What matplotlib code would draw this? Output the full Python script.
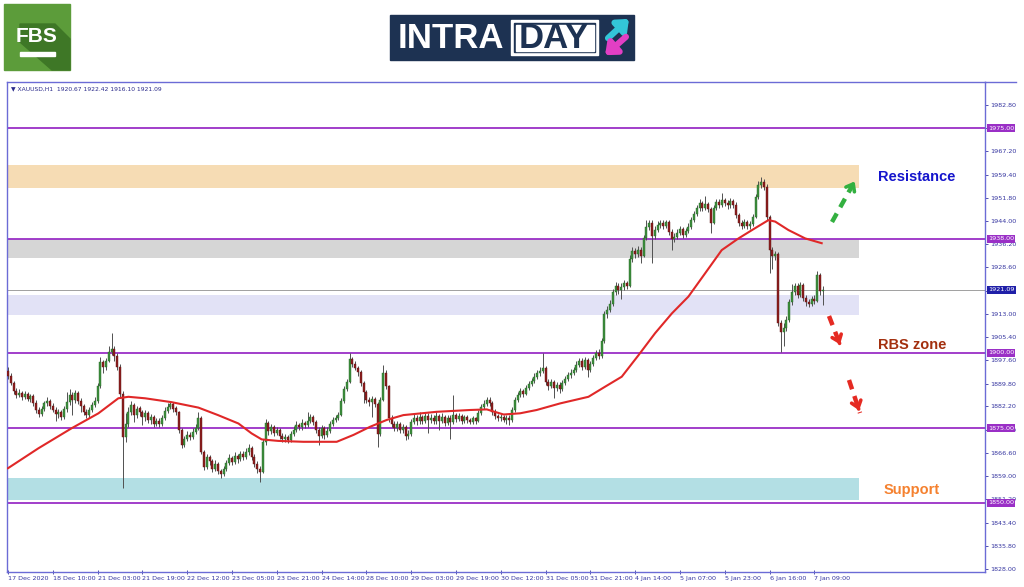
import numpy as np
import matplotlib
matplotlib.use("Agg")
import matplotlib.pyplot as plt
from matplotlib.patches import Rectangle, Polygon

# XAUUSD H1 candles (open = previous close)
first_open = 1894.0
closes = [
    1892.5, 1890.0, 1887.5, 1886.0, 1886.8, 1885.5, 1886.2, 1884.8, 1885.6, 1883.5,
    1881.0, 1879.8, 1881.5, 1883.2, 1884.0, 1882.5, 1881.0, 1879.6, 1880.2, 1878.8,
    1881.5, 1883.8, 1886.0, 1884.5, 1886.8, 1884.0, 1882.2, 1880.5, 1879.4, 1881.0,
    1882.8, 1884.0, 1889.0, 1897.0, 1895.5, 1897.5, 1900.5, 1901.5, 1899.0, 1895.5,
    1886.5, 1872.0, 1876.5, 1880.5, 1882.8, 1879.5, 1881.5, 1880.2, 1878.6, 1880.0,
    1877.8, 1878.8, 1876.5, 1877.5, 1876.2, 1878.5, 1880.8, 1882.0, 1883.0, 1881.5,
    1880.2, 1874.5, 1869.5, 1871.5, 1872.8, 1872.0, 1873.8, 1875.0, 1878.2, 1867.0,
    1862.0, 1865.2, 1864.0, 1861.5, 1863.0, 1860.8, 1859.8, 1861.5, 1863.5, 1865.0,
    1863.8, 1865.8, 1864.8, 1866.5, 1865.5, 1867.0, 1868.5, 1865.5, 1863.0, 1861.5,
    1860.5, 1870.5, 1876.8, 1874.0, 1875.2, 1873.5, 1874.4, 1872.5, 1871.2, 1872.0,
    1871.0, 1873.0, 1874.5, 1876.0, 1875.2, 1876.8, 1876.0, 1877.5, 1878.8, 1877.0,
    1874.5, 1872.5, 1875.0, 1872.8, 1874.0, 1876.5, 1877.8, 1878.5, 1879.5, 1884.0,
    1888.0, 1890.5, 1898.0, 1896.5, 1895.0, 1893.8, 1890.0, 1887.0, 1884.5, 1883.8,
    1884.8, 1883.0, 1873.0, 1884.5, 1893.5, 1889.0, 1878.5, 1876.5, 1875.0, 1876.2,
    1874.5, 1875.2, 1872.5, 1873.0, 1877.0, 1878.5, 1877.2, 1878.8, 1877.5, 1879.0,
    1877.8, 1878.5, 1877.2, 1879.0, 1877.5, 1878.8, 1876.8, 1878.5, 1877.0, 1879.2,
    1878.0, 1879.0, 1877.5, 1878.6, 1877.8, 1877.0, 1878.2, 1877.5, 1880.0, 1882.0,
    1883.0, 1884.5, 1883.5, 1880.5, 1879.0, 1878.2, 1878.8, 1877.8, 1878.5, 1877.6,
    1881.0, 1884.5, 1886.0, 1887.2, 1886.5, 1888.5, 1889.8, 1890.8, 1892.0, 1893.2,
    1894.0, 1895.0, 1890.5, 1889.0, 1890.2, 1888.5, 1889.5, 1888.0, 1890.0, 1891.5,
    1892.8, 1893.5, 1894.5, 1896.0, 1897.5, 1895.5, 1897.8, 1894.5, 1896.5, 1898.5,
    1900.0, 1899.0, 1904.0, 1913.0, 1914.5, 1916.5, 1920.5, 1922.5, 1921.0, 1922.0,
    1923.2, 1922.5, 1931.5, 1934.0, 1933.0, 1934.5, 1932.5, 1938.5, 1942.0, 1943.5,
    1939.0, 1941.0, 1942.8, 1943.5, 1942.5, 1943.8, 1940.5, 1938.0, 1938.8, 1940.0,
    1941.2, 1939.5, 1940.8, 1942.0, 1944.5, 1946.5, 1948.5, 1950.0, 1948.5, 1949.8,
    1948.0, 1943.5, 1948.5, 1950.5, 1949.5, 1951.0, 1950.0, 1949.2, 1950.8, 1949.5,
    1946.0, 1943.5, 1942.5, 1943.8, 1942.2, 1943.0, 1945.5, 1952.0, 1956.0, 1957.0,
    1955.5, 1945.5, 1934.5, 1932.5, 1933.0, 1910.0, 1907.0, 1908.5, 1911.0, 1917.0,
    1920.5, 1922.5, 1919.5, 1922.8, 1918.5, 1917.0, 1916.5, 1918.0, 1917.5, 1926.0,
    1920.67, 1921.09,
]
highs = [
    1895.5, 1893.2, 1890.8, 1888.5, 1888.0, 1887.5, 1887.2, 1887.0, 1886.5, 1886.2,
    1884.2, 1882.0, 1882.5, 1884.0, 1885.5, 1884.8, 1883.5, 1882.0, 1881.5, 1881.0,
    1882.5, 1887.0, 1888.0, 1887.0, 1887.8, 1887.5, 1885.0, 1883.0, 1881.5, 1882.0,
    1883.8, 1885.2, 1890.0, 1898.8, 1897.8, 1898.5, 1902.5, 1906.6, 1902.5, 1900.0,
    1896.5, 1887.5, 1880.0, 1882.0, 1884.0, 1883.5, 1882.5, 1882.5, 1881.0, 1881.0,
    1880.8, 1879.8, 1879.5, 1878.5, 1878.2, 1879.5, 1882.0, 1883.5, 1884.0, 1883.8,
    1882.2, 1880.8, 1875.0, 1872.5, 1874.0, 1873.8, 1875.0, 1876.5, 1880.5, 1879.0,
    1867.8, 1866.5, 1866.0, 1864.8, 1864.5, 1863.8, 1861.5, 1862.5, 1864.5, 1866.2,
    1865.8, 1867.0, 1866.5, 1867.5, 1867.2, 1868.5, 1869.8, 1869.0, 1866.2, 1864.0,
    1862.5, 1871.5, 1878.0, 1877.5, 1876.5, 1876.0, 1875.5, 1875.0, 1873.5, 1873.0,
    1872.8, 1874.0, 1875.8, 1877.5, 1876.8, 1878.0, 1877.5, 1880.4, 1879.8, 1879.5,
    1877.8, 1875.2, 1876.0, 1875.8, 1875.2, 1877.5, 1878.8, 1879.5, 1880.5, 1885.0,
    1889.0, 1891.5, 1899.9, 1898.8, 1897.2, 1895.8, 1894.5, 1890.8, 1887.8, 1885.5,
    1885.8, 1885.5, 1883.8, 1885.5, 1896.0, 1894.2, 1889.5, 1879.5, 1877.5, 1877.5,
    1877.0, 1876.2, 1876.0, 1874.2, 1878.0, 1880.0, 1879.5, 1880.2, 1879.5, 1880.0,
    1880.0, 1879.8, 1879.2, 1880.2, 1879.8, 1880.0, 1879.5, 1879.5, 1879.2, 1886.0,
    1880.0, 1880.0, 1879.8, 1879.5, 1879.2, 1878.5, 1879.0, 1878.8, 1881.0, 1883.0,
    1884.2, 1885.5, 1885.2, 1884.0, 1881.2, 1879.8, 1879.8, 1879.5, 1879.5, 1879.2,
    1882.0, 1885.5, 1887.0, 1888.2, 1888.0, 1889.5, 1890.8, 1891.8, 1893.2, 1894.2,
    1895.2, 1900.0, 1895.8, 1891.2, 1891.2, 1891.0, 1890.5, 1890.2, 1891.0, 1892.5,
    1893.8, 1894.8, 1895.5, 1897.2, 1898.5, 1898.2, 1898.8, 1898.5, 1897.5, 1899.5,
    1901.0, 1901.2, 1905.0, 1914.0, 1915.8, 1917.8, 1921.5, 1923.8, 1923.2, 1923.2,
    1924.2, 1924.0, 1932.8, 1935.5, 1935.0, 1935.8, 1935.2, 1939.5, 1944.5, 1944.5,
    1944.2, 1942.5, 1944.0, 1944.5, 1944.2, 1944.5, 1944.2, 1941.2, 1940.0, 1941.2,
    1942.2, 1942.0, 1941.8, 1943.2, 1945.5, 1947.5, 1949.5, 1951.2, 1950.8, 1952.2,
    1950.5, 1948.8, 1949.5, 1951.5, 1951.2, 1953.2, 1951.8, 1951.0, 1951.8, 1951.5,
    1950.2, 1946.8, 1944.5, 1944.8, 1944.5, 1944.0, 1946.5, 1953.0, 1957.2, 1958.8,
    1958.0, 1956.2, 1946.0, 1935.5, 1934.0, 1933.8, 1911.0, 1910.0, 1912.2, 1918.0,
    1923.0, 1923.5, 1923.2, 1923.8, 1923.2, 1919.5, 1918.0, 1919.0, 1919.2, 1927.5,
    1926.8, 1922.42,
]
lows = [
    1891.5, 1889.2, 1886.5, 1885.0, 1885.2, 1884.5, 1884.8, 1884.0, 1883.8, 1882.5,
    1880.0, 1878.8, 1879.0, 1880.8, 1882.5, 1881.5, 1880.2, 1877.5, 1878.5, 1877.8,
    1878.0, 1880.5, 1882.8, 1879.5, 1883.5, 1883.0, 1880.5, 1879.5, 1878.2, 1878.5,
    1880.2, 1882.0, 1883.5, 1888.5, 1893.5, 1894.5, 1897.0, 1899.5, 1897.5, 1894.5,
    1885.5, 1855.0, 1870.5, 1875.5, 1879.5, 1877.0, 1878.5, 1879.0, 1876.0, 1877.5,
    1876.8, 1876.5, 1875.5, 1875.8, 1875.5, 1875.8, 1877.8, 1880.0, 1881.2, 1880.5,
    1879.5, 1873.5, 1868.5, 1868.8, 1870.8, 1871.0, 1871.5, 1873.0, 1874.5, 1866.5,
    1861.0, 1861.5, 1862.8, 1860.5, 1860.8, 1859.8, 1858.5, 1859.0, 1860.8, 1862.8,
    1862.8, 1863.0, 1863.5, 1864.0, 1864.5, 1864.8, 1866.0, 1864.5, 1862.0, 1860.0,
    1857.0, 1860.0, 1869.5, 1872.8, 1873.0, 1872.5, 1872.8, 1871.5, 1870.2, 1870.5,
    1870.0, 1870.5, 1872.2, 1873.8, 1874.2, 1874.5, 1875.0, 1875.5, 1876.8, 1876.0,
    1873.5, 1869.3, 1871.8, 1871.5, 1872.0, 1873.5, 1875.8, 1877.0, 1877.8, 1879.0,
    1883.5, 1887.2, 1890.0, 1895.5, 1894.2, 1892.5, 1889.0, 1883.5, 1883.5, 1882.5,
    1878.8, 1882.0, 1868.8, 1872.5, 1884.0, 1888.0, 1877.0, 1875.2, 1874.0, 1874.0,
    1873.5, 1873.2, 1871.0, 1871.5, 1872.5, 1876.2, 1876.0, 1876.5, 1876.5, 1876.8,
    1873.5, 1876.8, 1876.2, 1876.5, 1874.5, 1876.8, 1875.8, 1876.0, 1871.5, 1876.5,
    1877.0, 1877.2, 1876.5, 1876.8, 1876.8, 1876.2, 1876.5, 1876.5, 1877.0, 1879.5,
    1881.2, 1882.5, 1882.5, 1879.5, 1878.0, 1877.2, 1877.5, 1877.0, 1876.5, 1876.0,
    1877.0, 1880.5, 1883.8, 1885.2, 1885.5, 1886.0, 1887.8, 1889.0, 1890.0, 1891.2,
    1892.5, 1893.5, 1889.5, 1887.8, 1888.2, 1885.0, 1887.5, 1886.8, 1887.2, 1889.2,
    1890.8, 1891.8, 1892.8, 1893.8, 1895.2, 1894.5, 1894.8, 1892.0, 1893.8, 1895.8,
    1897.8, 1898.0, 1898.5, 1903.5, 1911.8, 1913.8, 1915.8, 1919.5, 1919.8, 1918.0,
    1921.0, 1921.5, 1922.0, 1930.5, 1931.8, 1932.0, 1930.0, 1932.0, 1937.8, 1941.0,
    1930.0, 1938.0, 1940.2, 1941.8, 1941.5, 1941.8, 1939.5, 1934.3, 1937.0, 1938.0,
    1939.2, 1938.5, 1938.8, 1940.0, 1941.5, 1943.8, 1945.8, 1947.5, 1947.5, 1947.8,
    1947.0, 1940.0, 1943.0, 1947.8, 1948.5, 1948.8, 1949.0, 1948.0, 1948.5, 1948.5,
    1945.0, 1942.5, 1941.5, 1941.8, 1941.2, 1941.5, 1942.5, 1945.0, 1951.2, 1955.0,
    1954.5, 1944.5, 1926.6, 1928.0, 1931.0, 1909.0, 1900.4, 1902.5, 1907.5, 1910.5,
    1916.0, 1919.5, 1918.5, 1918.8, 1917.2, 1915.8, 1915.2, 1915.8, 1916.5, 1917.0,
    1919.5, 1916.10,
]

# red moving average (bar index, price)
ma_bar = [0, 10.8, 22.7, 32.3, 39.4, 43, 49, 58.5, 68, 75, 82.3, 87, 90.6, 96.5,
          105.5, 117.4, 123.4, 129.3, 135.3, 141.2, 153.1, 165, 171, 177, 182.9,
          188.8, 197.2, 207.3, 213.3, 219.2, 225.2, 231.1, 237.1, 243, 249, 254.9,
          260.9, 266.8, 271.6, 274, 278.7, 284.7, 290.6]
ma_val = [1861.6, 1868.2, 1874.9, 1879.9, 1884.9, 1885.4, 1884.9, 1883.6, 1881.8,
          1879.3, 1876.5, 1873.2, 1871.2, 1870.7, 1870.4, 1870.4, 1872.7, 1875.4,
          1877.7, 1879.3, 1880.4, 1881.0, 1881.2, 1879.5, 1879.9, 1881.0, 1883.2,
          1885.4, 1888.8, 1892.1, 1899.3, 1906.6, 1913.2, 1918.8, 1926.6, 1934.3,
          1938.2, 1941.6, 1944.3, 1943.8, 1941.0, 1938.2, 1936.6]

levels = [1975.0, 1938.0, 1900.0, 1875.0, 1850.0]
last_price = 1921.09
zones = [(1955.0, 1962.7, "#f6dcb4"), (1931.7, 1938.0, "#d6d6d6"),
         (1912.7, 1919.3, "#e2e2f6"), (1851.0, 1858.3, "#b3dfe4")]

ytick_vals = [1982.80, 1975.00, 1967.20, 1959.40, 1951.80, 1944.00, 1936.20,
              1928.60, 1920.80, 1913.00, 1905.40, 1897.60, 1889.80, 1882.20,
              1874.40, 1866.60, 1859.00, 1851.20, 1843.40, 1835.80, 1828.00]
# labels that sit fully under a price tag in the reference
hidden_ticks = [1975.00, 1920.80]
xtick_labels = ["17 Dec 2020", "18 Dec 10:00", "21 Dec 03:00", "21 Dec 19:00",
                "22 Dec 12:00", "23 Dec 05:00", "23 Dec 21:00", "24 Dec 14:00",
                "28 Dec 10:00", "29 Dec 03:00", "29 Dec 19:00", "30 Dec 12:00",
                "31 Dec 05:00", "31 Dec 21:00", "4 Jan 14:00", "5 Jan 07:00",
                "5 Jan 23:00", "6 Jan 16:00", "7 Jan 09:00"]

W, H = 1024, 587
fig = plt.figure(figsize=(W / 100, H / 100), dpi=100)
fig.patch.set_facecolor("white")

# chart area in pixels: x 7..985, y 82..572
L, R, T, B = 7, 985, 82, 572
ax = fig.add_axes([L / W, (H - B) / H, (R - L) / W, (B - T) / H])
px_per_bar = 2.8
ax.set_xlim((L - 8) / px_per_bar, (R - 8) / px_per_bar)
ax.set_ylim(1900 - (B - 353) / 3, 1900 + (353 - T) / 3)

frame = "#6b6bd6"
for s in ax.spines.values():
    s.set_color(frame)
    s.set_linewidth(1.0)

opens = [first_open] + closes[:-1]
idx = np.arange(len(closes))

for (lo, hi, col) in zones:
    ax.fill_between([-1, 304], lo, hi, color=col, lw=0, zorder=1)

for lv in levels:
    ax.axhline(lv, color="#9a2fc6", lw=1.3, zorder=2)
ax.axhline(last_price, color="#a0a0a0", lw=0.7, zorder=2)

ax.vlines(idx, lows, highs, color="#505050", lw=0.7, zorder=3)
o = np.array(opens)
c = np.array(closes)
up = c >= o
body = np.maximum(np.abs(c - o), 0.2)
ax.bar(idx[up], body[up], bottom=np.minimum(o, c)[up], width=0.7,
       color="#3f8f3f", edgecolor="#226622", lw=0.3, zorder=4)
ax.bar(idx[~up], body[~up], bottom=np.minimum(o, c)[~up], width=0.7,
       color="#8e1f1f", edgecolor="#5a1010", lw=0.3, zorder=4)

ax.plot(ma_bar, ma_val, color="#e02828", lw=1.5, zorder=5)

# axes ticks
ax.yaxis.tick_right()
ax.set_yticks(ytick_vals)
ax.set_yticklabels(["" if v in hidden_ticks else "%.2f" % v for v in ytick_vals])
ax.tick_params(axis="y", labelsize=4.6, colors="#3535a0", length=2, width=0.6, pad=2)
ax.set_xticks(range(0, 16 * len(xtick_labels), 16))
ax.set_xticklabels(xtick_labels, ha="left")
ax.tick_params(axis="x", labelsize=4.6, colors="#3535a0", length=3, width=0.6,
               direction="inout", pad=1.5)

# price tags on the axis
ytr = ax.get_yaxis_transform()
for lv in levels:
    ax.text(1.003, lv, "%.2f" % lv, transform=ytr, ha="left", va="center",
            fontsize=4.6, color="white", zorder=10, clip_on=False,
            bbox=dict(facecolor="#9a2fc6", edgecolor="none", pad=0.9))
ax.text(1.003, last_price, "%.2f" % last_price, transform=ytr, ha="left",
        va="center", fontsize=4.6, color="white", zorder=10, clip_on=False,
        bbox=dict(facecolor="#1f1fa8", edgecolor="none", pad=0.9))

ax.text(0.004, 0.992, "\u25bc XAUUSD,H1  1920.67 1922.42 1916.10 1921.09",
        transform=ax.transAxes, ha="left", va="top", fontsize=4.3, color="#2a2a8a")

# overlay in pixel coordinates for header and annotations
ov = fig.add_axes([0, 0, 1, 1], zorder=20)
ov.set_xlim(0, W)
ov.set_ylim(H, 0)
ov.axis("off")
ov.plot([R, 1016], [T, T], color=frame, lw=1.0)

# FBS logo
ov.add_patch(Rectangle((4, 4), 66, 66, color="#5c9c3a"))
ov.add_patch(Polygon([(20, 24), (55, 24), (70, 39), (70, 70), (52, 70), (20, 42)],
                     closed=True, color="#3e7726"))
ov.text(37, 36, "FBS", ha="center", va="center", fontsize=15, fontweight="bold",
        color="white", family="Liberation Sans")
ov.add_patch(Rectangle((20, 52), 35, 3.5, color="white"))

# INTRADAY logo
ov.add_patch(Rectangle((390, 15), 244, 45, color="#1d3252"))
ov.text(398, 38, "INTRA", ha="left", va="center", fontsize=25, fontweight="bold",
        color="white", family="Liberation Sans")
ov.add_patch(Rectangle((511, 20), 87, 35, color="white"))
ov.add_patch(Rectangle((514, 23), 81, 29, color="#1d3252"))
ov.add_patch(Rectangle((515.5, 24.5), 78, 26, color="white"))
ov.text(554, 38, "DAY", ha="center", va="center", fontsize=25, fontweight="bold",
        color="#1d3252", family="Liberation Sans")
ov.annotate("", xy=(631, 17), xytext=(606, 40),
            arrowprops=dict(arrowstyle="-|>,head_width=0.5,head_length=0.6",
                            color="#33c6d8", lw=4.5))
ov.annotate("", xy=(603, 57), xytext=(628, 35),
            arrowprops=dict(arrowstyle="-|>,head_width=0.5,head_length=0.6",
                            color="#e23fc4", lw=4.5))

# annotations
ov.text(878, 177, "Resistance", ha="left", va="center", fontsize=10.5,
        fontweight="bold", color="#1414cc", family="Liberation Sans")
ov.text(878, 345, "RBS zone", ha="left", va="center", fontsize=10.5,
        fontweight="bold", color="#a3300f", family="Liberation Sans")
ov.text(884, 490, "Support", ha="left", va="center", fontsize=10.5,
        fontweight="bold", color="#f5812f", family="Liberation Sans")


def dashed_arrow(x0, y0, x1, y1, col):
    ov.plot([x0, x1], [y0, y1], color=col, lw=3.2, dashes=(2.2, 1.6),
            solid_capstyle="butt", dash_capstyle="butt")
    ov.annotate("", xy=(x1, y1), xytext=(x0 + (x1 - x0) * 0.8, y0 + (y1 - y0) * 0.8),
                arrowprops=dict(arrowstyle="->,head_width=0.35,head_length=0.45",
                                color=col, lw=2.6))


dashed_arrow(832, 222, 856, 179, "#33b040")
dashed_arrow(829, 316, 841, 347, "#e52a22")
dashed_arrow(849, 380, 860, 413, "#e52a22")

fig.savefig("out.png", dpi=100, facecolor="white")
